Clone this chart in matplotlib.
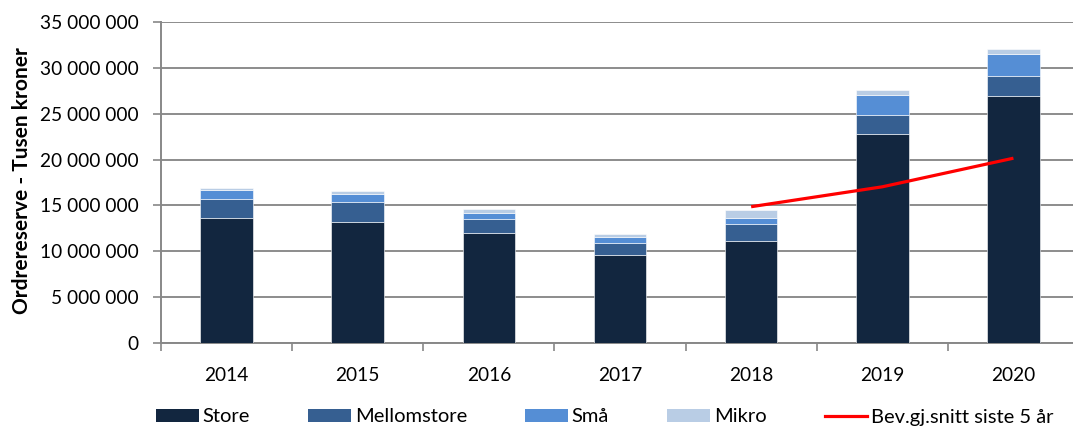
import matplotlib
matplotlib.use("Agg")
import matplotlib.pyplot as plt
from matplotlib.ticker import FuncFormatter, FixedLocator
from matplotlib.patches import Patch
from matplotlib.lines import Line2D

years = ["2014", "2015", "2016", "2017", "2018", "2019", "2020"]
store = [13660000, 13190000, 12030000, 9630000, 11160000, 22820000, 26930000]
mellomstore = [2010000, 2220000, 1530000, 1310000, 1780000, 2010000, 2220000]
smaa = [1010000, 840000, 580000, 580000, 730000, 2210000, 2360000]
mikro = [250000, 320000, 440000, 360000, 800000, 580000, 580000]
avg_years = ["2018", "2019", "2020"]
avg_values = [14860000, 17030000, 20150000]

series_names = ["Store", "Mellomstore", "Små", "Mikro"]
colors = ["#12263F", "#365F91", "#558ED5", "#B9CDE5"]
line_name = "Bev.gj.snitt siste 5 år"

plt.rcParams['font.family'] = ['Lato', 'DejaVu Sans']

W, H = 1073, 426
fig = plt.figure(figsize=(W / 100, H / 100), dpi=100)
left, right, top, bottom = 161, 1079, 22, 343
ax = fig.add_axes([left / W, 1 - bottom / H, (right - left) / W, (bottom - top) / H])

x = list(range(len(years)))
bottoms = [0] * len(years)
for vals, name, c in zip([store, mellomstore, smaa, mikro], series_names, colors):
    ax.bar(x, vals, width=0.4, bottom=bottoms, color=c, edgecolor="white", linewidth=0.4, zorder=3)
    bottoms = [b + v for b, v in zip(bottoms, vals)]

ax.plot([years.index(y) for y in avg_years], avg_values, color="#FF0000", lw=2.3, zorder=4,
        solid_capstyle="butt")

ax.set_xlim(-0.5, len(years) - 0.5)
ax.set_ylim(0, 35000000)
ax.set_yticks(range(0, 35000001, 5000000))
ax.yaxis.set_major_formatter(FuncFormatter(lambda v, p: f"{int(v):,}".replace(",", " ")))
ax.set_xticks(x)
ax.set_xticklabels(years)
ax.xaxis.set_minor_locator(FixedLocator([i + 0.5 for i in range(-1, len(years))]))
ax.tick_params(axis="x", which="major", length=0, pad=17, labelsize=13.8, colors="#000000")
ax.tick_params(axis="x", which="minor", length=6, color="#888888", width=1.2)
ax.tick_params(axis="y", length=6, color="#888888", width=1.2, labelsize=13.8, pad=10)
ax.grid(axis="y", color="#8C8C8C", lw=1.4, zorder=0)
ax.set_axisbelow(True)
for s in ["top", "right"]:
    ax.spines[s].set_visible(False)
for s in ["left", "bottom"]:
    ax.spines[s].set_color("#888888")
    ax.spines[s].set_linewidth(1.4)

fig.text(22 / W, 1 - 181 / H, "Ordrereserve - Tusen kroner", rotation=90, fontsize=15,
         fontweight="bold", ha="center", va="center")

handles = [Patch(facecolor=c, edgecolor="none") for c in colors]
handles.append(Line2D([0], [0], color="#FF0000", lw=2.3))
fig.legend(handles, series_names + [line_name], loc="center", ncol=5,
           bbox_to_anchor=(605 / W, 1 - 417 / H), frameon=False, fontsize=14.5,
           handlelength=2.1, handleheight=0.6, handletextpad=0.2, columnspacing=2.9,
           borderpad=0, borderaxespad=0)

fig.savefig("out.png", dpi=100)
